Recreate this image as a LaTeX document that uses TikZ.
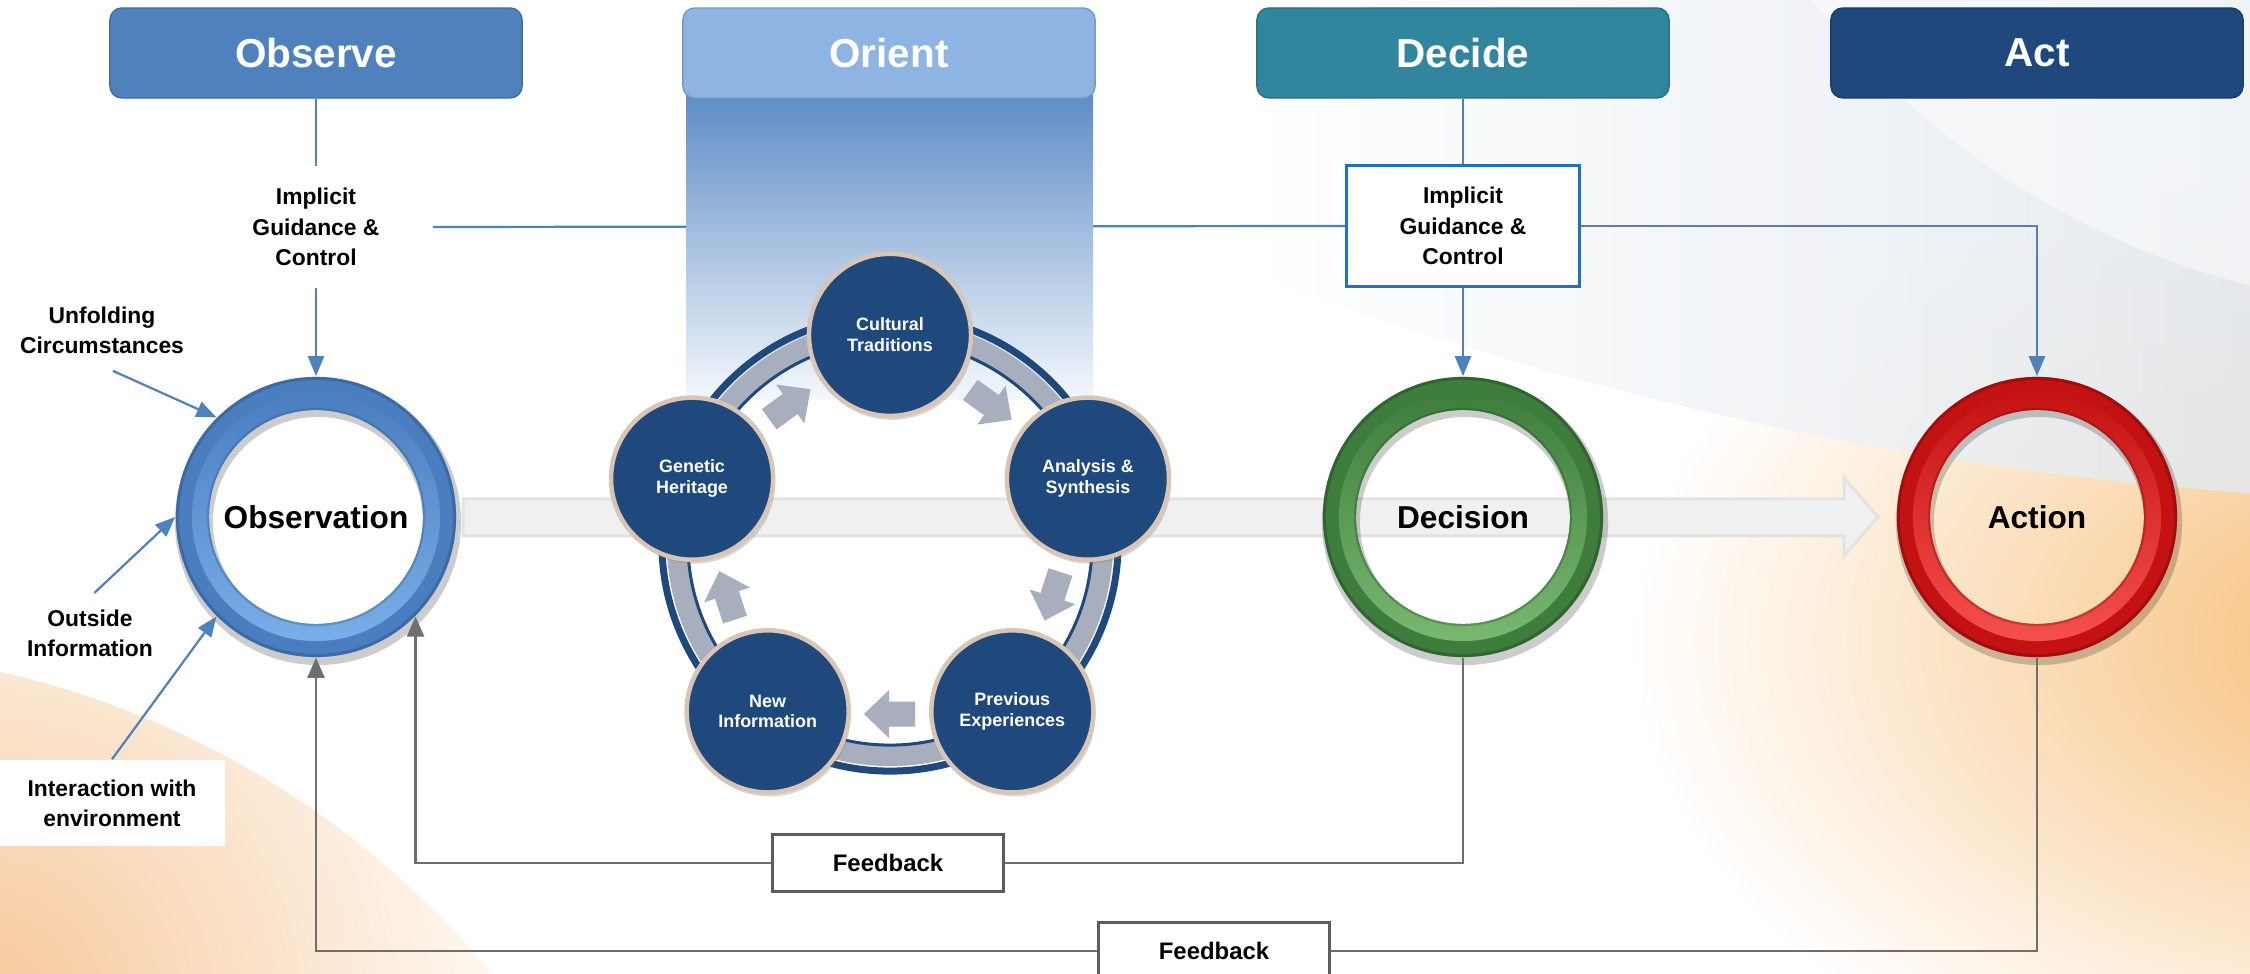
\documentclass[tikz,border=0pt]{standalone}
\usepackage{fontspec}
\setmainfont{Liberation Sans}
\usetikzlibrary{arrows.meta,shapes.arrows,calc,shadows}
\definecolor{obsblue}{HTML}{4F81BD}
\definecolor{oriblue}{HTML}{8DB4E2}
\definecolor{decteal}{HTML}{31859C}
\definecolor{actnavy}{HTML}{1F497D}
\definecolor{linkblue}{HTML}{4F81BD}
\definecolor{fbgray}{HTML}{6E6E6E}
\definecolor{cycnavy}{HTML}{1F497D}
\definecolor{cycedge}{HTML}{D9C5B5}
\definecolor{cycgray}{HTML}{A7AEBE}
\definecolor{bandfill}{HTML}{F0F0F0}
\definecolor{bandedge}{HTML}{E2E2E2}
\definecolor{boxblue}{HTML}{1F70C6}
\definecolor{orangeA}{HTML}{F7BE78}
\definecolor{orangeB}{HTML}{F7C899}
\definecolor{mistblue}{HTML}{E2E8EF}
\definecolor{bandtop}{HTML}{5F8DC6}
\definecolor{bandmid}{HTML}{A9C5E6}
\definecolor{bandbot}{HTML}{F4F8FC}
\definecolor{obsA}{HTML}{4A7EBF}
\definecolor{obsB}{HTML}{7AAEE8}
\definecolor{obsC}{HTML}{2F5A8E}
\definecolor{decA}{HTML}{3E7D3B}
\definecolor{decB}{HTML}{78B870}
\definecolor{decC}{HTML}{25522A}
\definecolor{actA}{HTML}{C41212}
\definecolor{actB}{HTML}{F5504C}
\definecolor{actC}{HTML}{8A0808}
\newcommand\oodaring[4]{%
  \fill[black,opacity=0.2,even odd rule] ($(#1)+(0.02cm,-0.05cm)$) circle (1.43cm) ($(#1)+(0.02cm,-0.05cm)$) circle (1.05cm);
  \fill[#2,even odd rule] (#1) circle (1.4cm) (#1) circle (1.07cm);
  \shade[top color=#2, bottom color=#3, even odd rule] (#1) circle (1.24cm) (#1) circle (1.07cm);
  \draw[#4,opacity=0.55,line width=0.03cm] (#1) circle (1.385cm);
  \draw[#4,opacity=0.35,line width=0.02cm] (#1) circle (1.08cm);
}
\newcommand\cycblock[2]{%
  \fill[cycgray, shift={($(cyc)+(#1:1.71cm)$)}, rotate=#2]
    (-0.25cm,-0.125cm) -- (0.01cm,-0.125cm) -- (0.01cm,-0.24cm) -- (0.26cm,0cm)
    -- (0.01cm,0.24cm) -- (0.01cm,0.125cm) -- (-0.25cm,0.125cm) -- cycle;
}
\begin{document}
\begin{tikzpicture}[x=0.01cm,y=-0.01cm,
  hdr/.style={fill=#1, draw=#1!85!black, line width=0.4pt, rounded corners=0.12cm,
    minimum width=4.12cm, minimum height=0.9cm, inner sep=0pt, text=white,
    font=\fontsize{11.5}{13}\selectfont\bfseries},
  lbl/.style={font=\fontsize{6.5}{8.6}\selectfont\bfseries, align=center, text=black},
  igc/.style={lbl, minimum width=2.32cm, minimum height=1.21cm, inner sep=0pt},
  ringnode/.style={circle, minimum size=2.8cm, inner sep=0pt,
    font=\fontsize{9}{10}\selectfont\bfseries},
  cycnode/.style={circle, fill=cycnavy, draw=cycedge, line width=0.045cm,
    minimum size=1.62cm, inner sep=0pt, text=white, align=center,
    font=\fontsize{5.1}{5.9}\selectfont\bfseries,
    drop shadow={opacity=0.3, shadow xshift=0.02cm, shadow yshift=-0.04cm}},
  fbbox/.style={draw=fbgray!85!black, fill=white, line width=0.025cm,
    minimum width=2.31cm, minimum height=0.57cm, inner sep=0pt,
    font=\fontsize{6.8}{8}\selectfont\bfseries},
  bluelink/.style={draw=linkblue, line width=0.022cm},
  bluearr/.style={bluelink, -{Triangle[length=0.2cm,width=0.16cm]}},
  fblink/.style={draw=fbgray, line width=0.025cm},
  fbarr/.style={fblink, -{Triangle[length=0.2cm,width=0.17cm]}}
]
\useasboundingbox (0,0) rectangle (2250,974);
% ---------- background ----------
\fill[white] (0,0) rectangle (2250,974);
\begin{scope}
  \clip (0,0) rectangle (2250,974);
  \shade[inner color=orangeA, outer color=white] (2390,640) ellipse (7.6cm and 5.0cm);
  \begin{scope}
    \clip (-200,1550) circle (9cm);
    \shade[inner color=orangeB, outer color=white] (-20,1010) circle (6cm);
  \end{scope}
  \begin{scope}
    \clip (2500,-3000) circle (35cm);
    \shade[left color=white, right color=mistblue, opacity=0.85] (1250,0) rectangle (2250,520);
  \end{scope}
  \fill[white, opacity=0.45] (2450,-500) circle (8.1cm);
\end{scope}

% ---------- guidance line (behind orient band) ----------
\node[igc] (igcL) at (316,227) {Implicit\\Guidance \&\\Control};
\node[igc, draw=boxblue, fill=white, line width=0.03cm] (igcR) at (1463,226) {Implicit\\Guidance \&\\Control};
\draw[bluelink] (igcL.east) -- (igcR.west);

% ---------- orient band ----------
\shade[top color=bandtop, middle color=bandmid, bottom color=bandbot] (686,96) rectangle (1093,400);

% ---------- big flow arrow ----------
\fill[bandfill, draw=bandedge, line width=0.03cm]
  (463,499) -- (1844,499) -- (1844,478) -- (1878,517) -- (1844,556) -- (1844,536) -- (463,536) -- cycle;

% ---------- headers ----------
\node[hdr=obsblue] (observe) at (316,53) {Observe};
\node[hdr=oriblue] (orient) at (889,53) {Orient};
\node[hdr=decteal] (decide) at (1463,53) {Decide};
\node[hdr=actnavy] (act) at (2037,53) {Act};

% ---------- orient cycle ----------
\coordinate (cyc) at (890,543);
\draw[cycnavy, line width=0.07cm] (cyc) circle (2.28cm);
\draw[cycgray, line width=0.2cm] (cyc) circle (2.13cm);
\draw[cycnavy, line width=0.03cm] (cyc) circle (2.02cm);
\cycblock{126}{36}
\cycblock{54}{-36}
\cycblock{-18}{-108}
\cycblock{-90}{-180}
\cycblock{198}{108}
\node[cycnode] (cult) at ($(cyc)+(90:2.08cm)$) {Cultural\\Traditions};
\node[cycnode] (anal) at ($(cyc)+(18:2.08cm)$) {Analysis \&\\Synthesis};
\node[cycnode] (prev) at ($(cyc)+(-54:2.08cm)$) {Previous\\Experiences};
\node[cycnode] (newi) at ($(cyc)+(-126:2.08cm)$) {New\\Information};
\node[cycnode] (gene) at ($(cyc)+(162:2.08cm)$) {Genetic\\Heritage};

% ---------- rings ----------
\coordinate (obsc) at (316,517);
\coordinate (decc) at (1463,517);
\coordinate (actc) at (2037,517);
\oodaring{obsc}{obsA}{obsB}{obsC}
\oodaring{decc}{decA}{decB}{decC}
\oodaring{actc}{actA}{actB}{actC}
\node[ringnode] (obs) at (obsc) {Observation};
\node[ringnode] (dec) at (decc) {Decision};
\node[ringnode] (actn) at (actc) {Action};

% ---------- observation inputs ----------
\node[lbl] (unf) at (102,330) {Unfolding\\Circumstances};
\node[lbl] (outs) at (90,633) {Outside\\Information};
\node[lbl, fill=white, minimum width=2.25cm, minimum height=0.86cm, inner sep=0pt] (inter) at (112,803) {Interaction with\\environment};
\draw[bluearr, shorten <=0.12cm] (unf.south) -- (obs.135);
\draw[bluearr, shorten <=0.06cm] (outs.north) -- (obs.180);
\draw[bluearr] (inter.north) -- (obs.225);

% ---------- guidance connectors ----------
\draw[bluelink] (observe.south) -- (igcL.north);
\draw[bluearr] (igcL.south) -- (obs.north);
\draw[bluelink] (decide.south) -- (igcR.north);
\draw[bluearr] (igcR.south) -- (dec.north);
\draw[bluearr] (igcR.east) -| (actn.north);

% ---------- feedback ----------
\node[fbbox] (fb1) at (888,863) {Feedback};
\node[fbbox] (fb2) at (1214,951) {Feedback};
\draw[fblink] (dec.south) |- (fb1.east);
\draw[fbarr] (fb1.west) -| (obs.-45);
\draw[fblink] (actn.south) |- (fb2.east);
\draw[fbarr] (fb2.west) -| (obs.south);
\end{tikzpicture}
\end{document}
